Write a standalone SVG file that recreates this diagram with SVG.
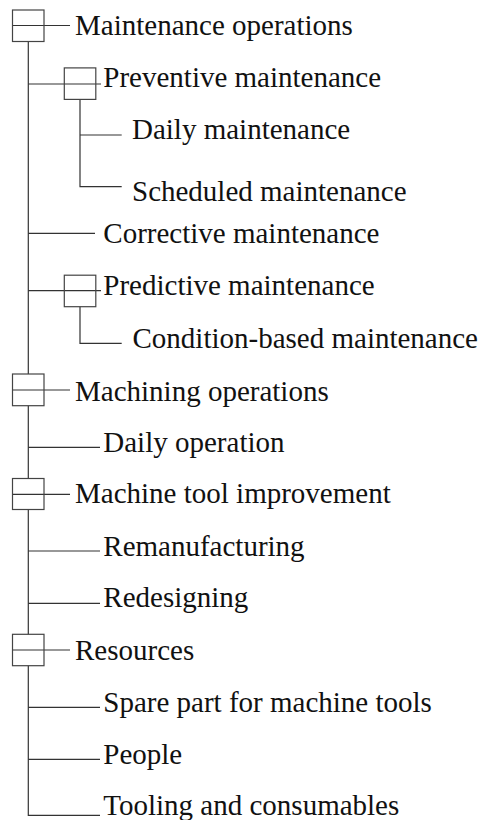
<svg xmlns="http://www.w3.org/2000/svg" width="484" height="820" viewBox="0 0 484 820">
<style>
.bg{fill:#ffffff}
.box{fill:none;stroke:#444;stroke-width:1.2}
.ln{fill:none;stroke:#333;stroke-width:1.2}
.t{font-family:'Liberation Serif','Times New Roman',Tinos,'Nimbus Roman','DejaVu Serif',serif;font-size:29px;fill:#111}
</style>
<rect class="bg" x="0" y="0" width="484" height="820"/>
<g id="connectors">
<path class="ln" d="M12.5 25.5H70"/>
<path class="ln" d="M28.3 41.5V374"/>
<path class="ln" d="M28.3 84H101"/>
<path class="ln" d="M80 99.5V186.7H121.7"/>
<path class="ln" d="M80 135H121.7"/>
<path class="ln" d="M28.3 233.3H95"/>
<path class="ln" d="M28.3 290.7H101"/>
<path class="ln" d="M80 306.7V343.3H121.7"/>
<path class="ln" d="M12.5 390H70"/>
<path class="ln" d="M28.3 405.7V479"/>
<path class="ln" d="M28.3 447.3H100"/>
<path class="ln" d="M12.5 494.3H70"/>
<path class="ln" d="M28.3 509.3V634.3"/>
<path class="ln" d="M28.3 551H100"/>
<path class="ln" d="M28.3 603.3H100"/>
<path class="ln" d="M12.5 650H70"/>
<path class="ln" d="M28.3 665.7V815.3H100"/>
<path class="ln" d="M28.3 707.3H100"/>
<path class="ln" d="M28.3 759.3H100"/>
</g>
<g id="n-maintenance-operations">
<rect class="box" x="12.5" y="10" width="31.5" height="31.5"/>
<text class="t" font-family="Liberation Serif, serif" x="75" y="35">Maintenance operations</text>
</g>
<g id="n-preventive-maintenance">
<rect class="box" x="64.3" y="67.9" width="31.5" height="31.5"/>
<text class="t" font-family="Liberation Serif, serif" x="103.3" y="86.5">Preventive maintenance</text>
</g>
<g id="n-daily-maintenance">
<text class="t" font-family="Liberation Serif, serif" x="132" y="138.5">Daily maintenance</text>
</g>
<g id="n-scheduled-maintenance">
<text class="t" font-family="Liberation Serif, serif" x="132" y="200.5">Scheduled maintenance</text>
</g>
<g id="n-corrective-maintenance">
<text class="t" font-family="Liberation Serif, serif" x="103.3" y="243">Corrective maintenance</text>
</g>
<g id="n-predictive-maintenance">
<rect class="box" x="64.3" y="275.2" width="31.5" height="31.5"/>
<text class="t" font-family="Liberation Serif, serif" x="103.3" y="295">Predictive maintenance</text>
</g>
<g id="n-condition-based-maintenance">
<text class="t" font-family="Liberation Serif, serif" x="132.5" y="348.3">Condition-based maintenance</text>
</g>
<g id="n-machining-operations">
<rect class="box" x="12.5" y="374" width="31.5" height="31.7"/>
<text class="t" font-family="Liberation Serif, serif" x="75" y="400.5">Machining operations</text>
</g>
<g id="n-daily-operation">
<text class="t" font-family="Liberation Serif, serif" x="103.3" y="452">Daily operation</text>
</g>
<g id="n-machine-tool-improvement">
<rect class="box" x="12.5" y="478.5" width="31.5" height="31"/>
<text class="t" font-family="Liberation Serif, serif" x="75" y="503">Machine tool improvement</text>
</g>
<g id="n-remanufacturing">
<text class="t" font-family="Liberation Serif, serif" x="103.3" y="555.5">Remanufacturing</text>
</g>
<g id="n-redesigning">
<text class="t" font-family="Liberation Serif, serif" x="103.3" y="607.3">Redesigning</text>
</g>
<g id="n-resources">
<rect class="box" x="12.5" y="634.3" width="31.5" height="31.4"/>
<text class="t" font-family="Liberation Serif, serif" x="75" y="660">Resources</text>
</g>
<g id="n-spare-part">
<text class="t" font-family="Liberation Serif, serif" x="103.3" y="712">Spare part for machine tools</text>
</g>
<g id="n-people">
<text class="t" font-family="Liberation Serif, serif" x="103.3" y="764">People</text>
</g>
<g id="n-tooling">
<text class="t" font-family="Liberation Serif, serif" x="103.3" y="814.5">Tooling and consumables</text>
</g>
</svg>
